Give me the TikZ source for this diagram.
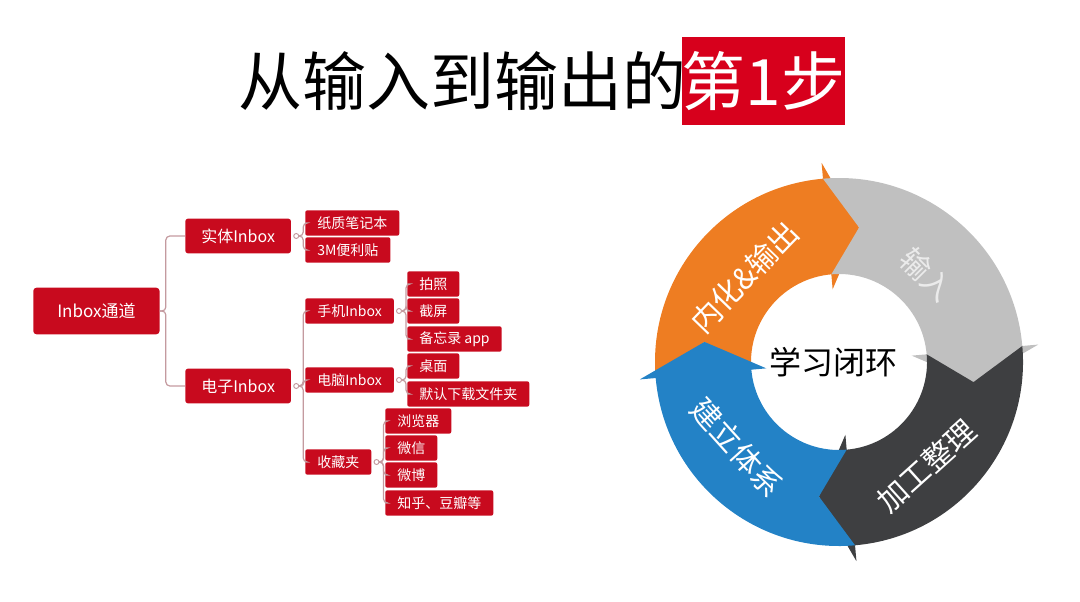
\documentclass[tikz,border=0pt]{standalone}
\usepackage{fontspec}
\setmainfont{Noto Sans CJK SC}
\definecolor{titlered}{HTML}{D7001C}
\definecolor{nodered}{HTML}{C80A1E}
\definecolor{linkcol}{HTML}{C49A9F}
\definecolor{cycorange}{HTML}{EE7D22}
\definecolor{cycgray}{HTML}{C0C0C0}
\definecolor{cycdark}{HTML}{3E3F41}
\definecolor{cycblue}{HTML}{2382C6}
\tikzset{
  rootbox/.style={fill=nodered, text=white, rounded corners=2.5pt, anchor=west,
    minimum height=35pt, inner xsep=18pt, font=\fontsize{12.75}{14}\selectfont},
  midbox/.style={fill=nodered, text=white, rounded corners=2pt, anchor=west,
    minimum height=26pt, inner xsep=12pt, font=\fontsize{12}{14}\selectfont},
  leafbox/.style={fill=nodered, text=white, rounded corners=1.5pt, anchor=west,
    minimum height=19pt, inner xsep=9pt, font=\fontsize{10.5}{12}\selectfont},
  link/.style={draw=linkcol, line width=0.9pt, rounded corners=3pt},
  knob/.style={draw=linkcol, line width=0.7pt, fill=white},
  cyclabel/.style={text=white, inner sep=1pt, font=\fontsize{22.5}{24}\selectfont}
}
\begin{document}
\begin{tikzpicture}[x=0.75pt, y=-0.75pt]
  \useasboundingbox (0,0) rectangle (1080,602);
  % title
  \node[anchor=east, inner sep=0pt, font=\fontsize{48}{50}\selectfont] (title) at (687,81) {从输入到输出的};
  \node[fill=titlered, text=white, inner sep=0pt, minimum width=115pt, minimum height=66pt,
    font=\fontsize{48}{50}\selectfont] (step1) at (763.5,81) {第1步};

  % mind map
  \node[rootbox] (root) at (33,311) {Inbox通道};
  \node[midbox] (real) at (185,236) {实体Inbox};
  \node[midbox] (digi) at (185,386) {电子Inbox};
  \node[leafbox] (paper) at (305,223) {纸质笔记本};
  \node[leafbox] (sticky) at (305,250) {3M便利贴};
  \node[leafbox] (phone) at (305,311) {手机Inbox};
  \node[leafbox] (pc) at (305,380) {电脑Inbox};
  \node[leafbox] (fav) at (305,462) {收藏夹};
  \node[leafbox] (photo) at (407,284) {拍照};
  \node[leafbox] (shot) at (407,311) {截屏};
  \node[leafbox] (memo) at (407,339) {备忘录 app};
  \node[leafbox] (desk) at (407,366) {桌面};
  \node[leafbox] (dl) at (407,394) {默认下载文件夹};
  \node[leafbox] (browser) at (385,421) {浏览器};
  \node[leafbox] (wechat) at (385,448) {微信};
  \node[leafbox] (weibo) at (385,475) {微博};
  \node[leafbox] (zhihu) at (385,503) {知乎、豆瓣等};

  \foreach \c in {real,digi}
    \draw[link] (root.east) -- ++(6,0) |- (\c.west);
  \foreach \p/\kids in {real/{paper,sticky}, digi/{phone,pc,fav}, phone/{photo,shot,memo},
      pc/{desk,dl}, fav/{browser,wechat,weibo,zhihu}} {
    \foreach \c in \kids
      \draw[link] (\p.east) ++(7.5,0) -- ++(4.5,0) |- (\c.west);
    \draw[knob] (\p.east) ++(5,0) circle[radius=2.5];
  }

  % learning loop
  \begin{scope}[shift={(839,362)}, x=0.75pt, y=0.75pt]
    \foreach \col/\s [evaluate=\s as \e using \s-90, evaluate=\s as \t using \s-103.5,
        evaluate=\s as \n using \s-13.5] in {cycorange/185, cycgray/95, cycdark/5, cycblue/-85}
      \fill[\col] (\s:184) arc[start angle=\s, end angle=\e, radius=184] -- (\e:200) -- (\t:136)
        -- (\e:73) -- (\e:88) arc[start angle=\e, end angle=\s, radius=88] -- (\n:136) -- cycle;
    \node[cyclabel, rotate=46] (inner) at (138:127) {内化\&输出};
    \node[cyclabel, text=white!92!black, rotate=-45] (input) at (45:124) {输入};
    \node[cyclabel, rotate=42] (process) at (-50:136) {加工整理};
    \node[cyclabel, rotate=-48] (system) at (220:133) {建立体系};
    \node[font=\fontsize{24}{26}\selectfont] (loop) at (-6,0) {学习闭环};
  \end{scope}
\end{tikzpicture}
\end{document}
